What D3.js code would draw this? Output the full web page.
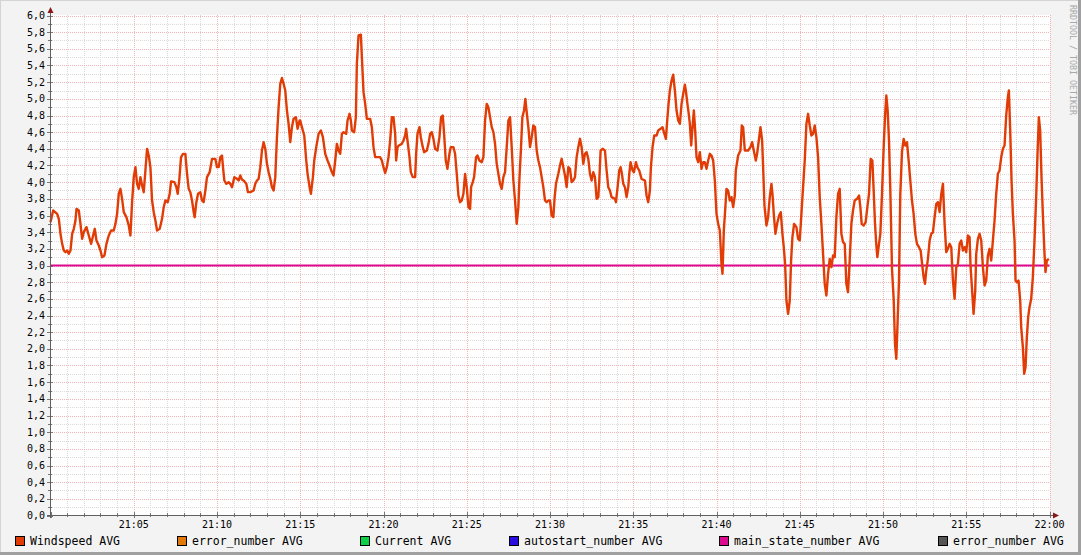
<!DOCTYPE html>
<html><head><meta charset="utf-8">
<script src="https://cdn.jsdelivr.net/npm/d3@7"></script>
<style>
html,body{margin:0;padding:0;background:#F3F3F3;}
svg{display:block;}
text{font-family:"DejaVu Sans Mono",monospace;}
</style></head>
<body>
<svg id="chart" width="1081" height="555"></svg>
<script>
// ---- data (minutes after 21:00, windspeed) ----
const timeMinutes = [0.00,0.16,0.40,0.50,0.60,0.70,0.80,0.90,1.00,1.10,1.20,1.30,1.40,1.50,1.56,1.70,1.80,1.90,2.00,2.16,2.30,2.44,2.56,2.66,2.76,2.90,3.00,3.10,3.24,3.36,3.50,3.64,3.80,3.90,4.00,4.10,4.20,4.30,4.40,4.56,4.70,4.80,4.90,5.00,5.10,5.20,5.30,5.40,5.50,5.60,5.70,5.80,5.90,6.00,6.10,6.20,6.30,6.40,6.56,6.70,6.80,6.90,7.04,7.16,7.24,7.44,7.56,7.64,7.74,7.84,7.96,8.10,8.20,8.30,8.40,8.50,8.60,8.66,8.76,8.86,9.00,9.10,9.20,9.30,9.40,9.56,9.70,9.90,10.00,10.10,10.20,10.30,10.36,10.44,10.56,10.70,10.80,10.90,11.04,11.20,11.30,11.40,11.50,11.60,11.76,11.86,12.00,12.20,12.30,12.40,12.50,12.60,12.70,12.80,12.90,13.00,13.10,13.20,13.30,13.40,13.50,13.60,13.70,13.80,13.90,14.00,14.10,14.20,14.30,14.40,14.50,14.60,14.74,14.84,14.96,
15.00,15.10,15.24,15.36,15.44,15.56,15.64,15.76,15.84,15.96,16.10,16.24,16.36,16.50,16.64,16.76,16.90,17.00,17.10,17.20,17.30,17.40,17.50,17.60,17.76,17.84,17.96,18.04,18.10,18.24,18.34,18.40,18.50,18.64,18.72,18.80,18.90,19.00,19.20,19.30,19.40,19.50,19.80,19.90,20.00,20.10,20.20,20.30,20.40,20.50,20.60,20.70,20.76,20.84,20.92,21.10,21.20,21.30,21.36,21.44,21.56,21.64,21.76,21.90,21.96,22.04,22.16,22.24,22.36,22.44,22.60,22.70,22.80,22.90,23.00,23.10,23.24,23.36,23.46,23.56,23.64,23.74,23.84,23.96,24.04,24.20,24.30,24.40,24.50,24.60,24.70,24.80,24.90,25.00,25.10,25.20,25.26,25.36,25.44,25.56,25.64,25.76,25.90,26.00,26.10,26.20,26.30,26.40,26.50,26.60,26.70,26.80,26.90,27.00,27.10,27.20,27.30,27.40,27.50,27.60,27.70,27.80,27.90,28.00,28.10,28.16,28.26,28.34,28.44,28.52,28.60,28.70,28.80,28.90,29.00,29.10,29.20,29.30,29.40,29.50,29.60,29.70,29.80,29.90,
30.00,30.10,30.20,30.28,30.36,30.50,30.60,30.70,30.80,30.90,31.00,31.10,31.20,31.30,31.40,31.50,31.60,31.70,31.80,31.90,32.00,32.10,32.20,32.30,32.40,32.50,32.60,32.70,32.80,32.90,32.96,33.04,33.16,33.30,33.40,33.50,33.60,33.70,33.90,33.96,34.06,34.16,34.24,34.32,34.40,34.50,34.60,34.70,34.76,34.84,34.96,35.04,35.16,35.24,35.36,35.50,35.70,35.80,35.90,36.00,36.06,36.16,36.26,36.40,36.50,36.64,36.76,36.84,36.96,37.04,37.12,37.20,37.30,37.40,37.50,37.60,37.70,37.80,37.90,38.00,38.10,38.16,38.24,38.32,38.40,38.48,38.56,38.64,38.72,38.80,38.90,39.00,39.10,39.20,39.30,39.40,39.50,39.60,39.70,39.80,39.90,40.00,40.10,40.20,40.30,40.36,40.44,40.52,40.60,40.70,40.80,40.90,41.00,41.10,41.16,41.30,41.44,41.52,41.60,41.70,41.90,42.04,42.14,42.24,42.36,42.44,42.54,42.64,42.74,42.80,42.88,43.00,43.10,43.20,43.30,43.36,43.44,43.54,43.64,43.76,43.86,43.96,44.04,44.12,44.20,44.30,44.40,44.48,44.56,44.66,44.80,44.90,
45.00,45.10,45.20,45.30,45.40,45.50,45.60,45.70,45.80,45.90,46.00,46.10,46.20,46.30,46.40,46.50,46.60,46.70,46.80,46.90,47.00,47.10,47.20,47.30,47.40,47.50,47.60,47.70,47.80,47.90,48.00,48.10,48.20,48.30,48.44,48.56,48.64,48.72,48.84,48.96,49.06,49.16,49.26,49.36,49.44,49.52,49.60,49.66,49.76,49.84,49.94,50.04,50.12,50.20,50.28,50.36,50.44,50.54,50.64,50.72,50.80,50.88,50.96,51.04,51.14,51.24,51.34,51.44,51.54,51.64,51.74,51.84,51.94,52.04,52.16,52.26,52.36,52.44,52.52,52.60,52.70,52.80,52.90,53.00,53.10,53.20,53.30,53.40,53.50,53.60,53.70,53.80,53.90,54.00,54.10,54.20,54.30,54.40,54.50,54.60,54.70,54.80,54.90,55.00,55.10,55.20,55.26,55.34,55.44,55.54,55.60,55.70,55.80,55.90,56.00,56.10,56.20,56.30,56.40,56.50,56.60,56.70,56.80,56.90,57.00,57.10,57.20,57.30,57.40,57.50,57.56,57.64,57.72,57.80,57.90,57.96,58.04,58.14,58.24,58.30,58.40,58.48,58.56,58.64,58.72,58.80,58.90,59.00,59.10,59.20,59.28,59.36,59.44,59.52,59.60,59.70,59.76,59.84,59.96];

const windspeed = [3.52,3.66,3.62,3.56,3.38,3.26,3.18,3.16,3.18,3.14,3.18,3.38,3.44,3.54,3.68,3.66,3.50,3.32,3.40,3.46,3.36,3.26,3.36,3.44,3.30,3.24,3.18,3.10,3.12,3.26,3.36,3.42,3.42,3.50,3.62,3.86,3.92,3.80,3.64,3.58,3.48,3.36,3.76,4.06,4.18,3.98,3.92,4.06,3.96,3.88,4.14,4.40,4.32,4.18,3.78,3.64,3.54,3.42,3.44,3.56,3.70,3.78,3.76,3.86,4.01,4.00,3.94,3.86,4.04,4.30,4.34,4.34,4.10,3.92,3.88,3.78,3.64,3.58,3.76,3.86,3.88,3.78,3.76,3.90,4.06,4.12,4.28,4.28,4.18,4.18,4.30,4.32,4.18,4.02,3.98,4.00,3.98,3.94,4.06,4.04,4.02,4.08,4.03,4.02,3.98,3.88,3.88,3.90,3.98,4.02,4.04,4.18,4.38,4.48,4.40,4.22,4.12,4.04,3.94,3.90,4.06,4.54,4.90,5.18,5.25,5.18,5.10,4.86,4.70,4.48,4.66,4.76,4.78,4.64,4.74,
4.74,4.66,4.56,4.26,4.10,3.94,3.86,4.06,4.26,4.42,4.58,4.62,4.54,4.34,4.26,4.20,4.12,4.08,4.26,4.46,4.38,4.34,4.58,4.60,4.58,4.74,4.82,4.74,4.62,4.60,4.78,5.42,5.76,5.77,5.42,5.08,4.94,4.76,4.76,4.66,4.42,4.30,4.30,4.26,4.18,4.11,4.18,4.30,4.50,4.78,4.78,4.58,4.26,4.42,4.44,4.46,4.50,4.56,4.64,4.50,4.30,4.12,4.06,4.06,4.34,4.58,4.66,4.54,4.42,4.36,4.38,4.46,4.58,4.60,4.52,4.40,4.38,4.54,4.78,4.80,4.58,4.26,4.16,4.34,4.42,4.42,4.34,4.10,3.84,3.76,3.78,3.86,4.10,3.94,3.70,3.68,3.94,4.00,4.06,4.30,4.32,4.26,4.24,4.30,4.74,4.94,4.90,4.78,4.66,4.60,4.46,4.22,4.10,3.98,3.92,4.06,4.12,4.42,4.74,4.78,4.42,4.02,3.78,3.50,3.70,4.02,4.42,4.78,4.86,5.00,4.84,4.66,4.42,4.54,4.68,4.66,4.38,4.26,4.18,4.06,3.94,3.78,3.76,3.78,
3.78,3.60,3.58,3.82,3.98,4.10,4.20,4.28,4.18,4.08,3.94,4.18,4.16,4.00,4.02,4.06,4.30,4.42,4.52,4.42,4.22,4.34,4.36,4.28,4.10,4.02,4.12,4.06,3.80,3.82,4.02,4.38,4.40,4.38,4.14,3.94,3.90,3.82,3.80,3.76,3.94,4.14,4.18,4.10,3.98,3.94,3.82,3.94,4.10,4.24,4.14,4.12,4.24,4.18,4.14,4.04,4.02,3.84,3.76,3.90,4.18,4.42,4.56,4.56,4.62,4.64,4.66,4.60,4.52,4.74,4.94,5.10,5.22,5.29,5.10,4.86,4.74,4.70,4.94,5.06,5.17,5.10,4.96,4.84,4.70,4.44,4.66,4.86,4.62,4.30,4.24,4.36,4.16,4.24,4.24,4.16,4.26,4.34,4.32,4.26,4.02,3.62,3.50,3.42,3.02,2.90,3.42,3.66,3.92,3.90,3.78,3.82,3.70,3.84,4.14,4.32,4.38,4.68,4.66,4.38,4.38,4.42,4.48,4.38,4.26,4.34,4.50,4.66,4.50,4.18,3.72,3.48,3.58,3.82,3.98,3.86,3.62,3.38,3.50,3.60,3.64,3.38,3.22,3.02,2.58,2.42,2.58,3.06,3.34,3.50,3.46,3.32,
3.30,3.62,3.94,4.26,4.70,4.82,4.68,4.56,4.58,4.68,4.54,4.30,3.82,3.50,3.14,2.78,2.64,2.90,3.08,2.98,3.12,3.10,3.58,3.86,3.92,3.38,3.28,3.26,2.78,2.68,3.06,3.50,3.66,3.78,3.80,3.84,3.70,3.50,3.48,3.52,3.70,3.86,4.28,4.26,3.90,3.50,3.24,3.10,3.26,3.38,3.86,4.42,4.78,5.04,4.86,4.50,3.90,2.96,2.60,2.06,1.88,2.34,2.82,3.86,4.36,4.52,4.44,4.48,4.26,4.02,3.78,3.62,3.38,3.26,3.22,3.18,3.00,2.86,2.78,2.94,3.08,3.30,3.38,3.40,3.58,3.74,3.76,3.64,3.86,3.98,3.50,3.16,3.20,3.26,3.22,2.82,2.60,2.98,3.02,3.26,3.30,3.18,3.22,3.16,3.36,3.34,2.98,2.74,2.42,2.70,3.14,3.32,3.38,3.30,2.98,2.76,2.82,3.12,3.20,3.06,3.30,3.54,3.86,4.10,4.14,4.30,4.40,4.44,4.80,5.02,5.10,4.62,4.02,3.62,3.30,2.82,2.80,2.82,2.58,2.26,2.02,1.70,1.78,2.14,2.38,2.50,2.60,2.86,3.30,3.82,4.34,4.78,4.62,4.06,3.62,3.14,2.92,3.06,3.08];

const mainStateMinutes = [0, 60];
const mainStateNumber = [3.0, 3.0];

const xTickLabels = ["21:05","21:10","21:15","21:20","21:25","21:30","21:35","21:40","21:45","21:50","21:55","22:00"];
const yTickLabels = ["0,0","0,2","0,4","0,6","0,8","1,0","1,2","1,4","1,6","1,8","2,0","2,2","2,4","2,6","2,8","3,0","3,2","3,4","3,6","3,8","4,0","4,2","4,4","4,6","4,8","5,0","5,2","5,4","5,6","5,8","6,0"];

const legendNames = ["Windspeed AVG","error_number AVG","Current AVG","autostart_number AVG","main_state_number AVG","error_number AVG"];
const legendColors = ["#E23C06","#E0780A","#0DD048","#2B0CE0","#DC0A8E","#555555"];
const legendX = [15,177,360,509,719,938];

// ---- drawing ----
const W = 1081, H = 555;
const svg = d3.select("#chart");
const base = new Date(2020,0,1,21,0,0);
const toDate = m => new Date(base.getTime() + m*60000);

const x = d3.scaleTime().domain([toDate(0), toDate(60)]).range([50.5, 1049.5]);
const y = d3.scaleLinear().domain([0, 6]).range([515.5, 15.5]);

// background & frame
svg.append("rect").attr("width",W).attr("height",H).attr("fill","#F3F3F3");
svg.append("rect").attr("x",50).attr("y",15).attr("width",1000).attr("height",500).attr("fill","#FFFFFF");
svg.append("line").attr("x1",0).attr("y1",0.5).attr("x2",W).attr("y2",0.5).attr("stroke","#D4D4D4").attr("stroke-width",1);
svg.append("line").attr("x1",0.5).attr("y1",0).attr("x2",0.5).attr("y2",H).attr("stroke","#D4D4D4").attr("stroke-width",1);
svg.append("rect").attr("x",0).attr("y",H-3).attr("width",W).attr("height",3).attr("fill","#A0A0A0");
svg.append("rect").attr("x",W-3).attr("y",0).attr("width",3).attr("height",H).attr("fill","#A0A0A0");

const g = svg.append("g");

// minor grid
const yMinor = d3.range(0, 61).map(i => i/10);
const xMinor = d3.timeMinute.every(1).range(toDate(0), toDate(60.01));
g.selectAll(".ymin").data(yMinor.filter((d,i)=> i%2===1)).join("line")
  .attr("x1",50).attr("x2",1050).attr("y1",d=>Math.round(y(d))+0.5).attr("y2",d=>Math.round(y(d))+0.5)
  .attr("stroke","#DADADA").attr("stroke-dasharray","1,1").attr("stroke-width",1);
g.selectAll(".xmin").data(xMinor.filter((d,i)=> i%5!==0)).join("line")
  .attr("x1",d=>Math.round(x(d))+0.5).attr("x2",d=>Math.round(x(d))+0.5).attr("y1",15).attr("y2",515)
  .attr("stroke","#DADADA").attr("stroke-dasharray","1,1").attr("stroke-width",1);
// major grid
g.selectAll(".ymaj").data(yMinor.filter((d,i)=> i%2===0 && i>0)).join("line")
  .attr("x1",50).attr("x2",1050).attr("y1",d=>Math.round(y(d))+0.5).attr("y2",d=>Math.round(y(d))+0.5)
  .attr("stroke","#F0B4B4").attr("stroke-dasharray","1,1").attr("stroke-width",1);
g.selectAll(".xmaj").data(xMinor.filter((d,i)=> i%5===0 && i>0)).join("line")
  .attr("x1",d=>Math.round(x(d))+0.5).attr("x2",d=>Math.round(x(d))+0.5).attr("y1",15).attr("y2",515)
  .attr("stroke","#F0B4B4").attr("stroke-dasharray","1,1").attr("stroke-width",1);

// tick marks
g.selectAll(".yt").data(yMinor).join("line")
  .attr("x1",(d,i)=> i%2===0?47:48).attr("x2",(d,i)=> i%2===0?53:52)
  .attr("y1",d=>Math.round(y(d))+0.5).attr("y2",d=>Math.round(y(d))+0.5)
  .attr("stroke","#777").attr("stroke-width",1);
g.selectAll(".xt").data(xMinor).join("line")
  .attr("x1",d=>Math.round(x(d))+0.5).attr("x2",d=>Math.round(x(d))+0.5)
  .attr("y1",(d,i)=> i%5===0?512:513).attr("y2",(d,i)=> i%5===0?518:517)
  .attr("stroke","#777").attr("stroke-width",1);

// data series
const wsData = timeMinutes.map((m,i)=>({t:toDate(m), v:windspeed[i]}));
const msData = mainStateMinutes.map((m,i)=>({t:toDate(m), v:mainStateNumber[i]}));
const line = d3.line().x(d=>x(d.t)).y(d=>y(d.v)).curve(d3.curveLinear);

g.append("path").datum(msData).attr("d",line).attr("fill","none")
  .attr("stroke",legendColors[4]).attr("stroke-width",2);
g.append("path").datum(wsData).attr("d",line).attr("fill","none")
  .attr("stroke",legendColors[0]).attr("stroke-width",2.4).attr("stroke-linejoin","round");

// axes lines
g.append("line").attr("x1",50.5).attr("x2",50.5).attr("y1",10).attr("y2",518).attr("stroke","#606060").attr("stroke-width",1);
g.append("line").attr("x1",47).attr("x2",1054).attr("y1",515.5).attr("y2",515.5).attr("stroke","#606060").attr("stroke-width",1);
// arrows
g.append("path").attr("d","M47.5,13 L53.5,13 L50.5,7 Z").attr("fill","#8A1818");
g.append("path").attr("d","M1053,512.5 L1053,518.5 L1059,515.5 Z").attr("fill","#8A1818");

// y labels
g.selectAll(".ylab").data(yTickLabels).join("text")
  .attr("x",45).attr("y",(d,i)=> y(i*0.2)).attr("dy","0.35em")
  .attr("text-anchor","end").attr("font-size","10px").attr("fill","#000").text(d=>d);
// x labels
const xLabDates = xTickLabels.map((d,i)=> toDate((i+1)*5));
g.selectAll(".xlab").data(xTickLabels).join("text")
  .attr("x",(d,i)=> x(xLabDates[i])).attr("y",527.5)
  .attr("text-anchor","middle").attr("font-size","10px").attr("fill","#000").text(d=>d);

// legend
const lg = svg.append("g");
legendNames.forEach((name,i)=>{
  lg.append("rect").attr("x",legendX[i]+0.5).attr("y",536.5).attr("width",9).attr("height",9)
    .attr("fill",legendColors[i]).attr("stroke","#000").attr("stroke-width",1);
  lg.append("text").attr("x",legendX[i]+15).attr("y",545).attr("font-size","11.5px").attr("fill","#000").text(name);
});

// signature
svg.append("text").attr("transform","translate(1070,5) rotate(90)")
  .attr("font-size","8.3px").attr("fill","#A8A8A8").text("RRDTOOL / TOBI OETIKER");
</script>
</body></html>
